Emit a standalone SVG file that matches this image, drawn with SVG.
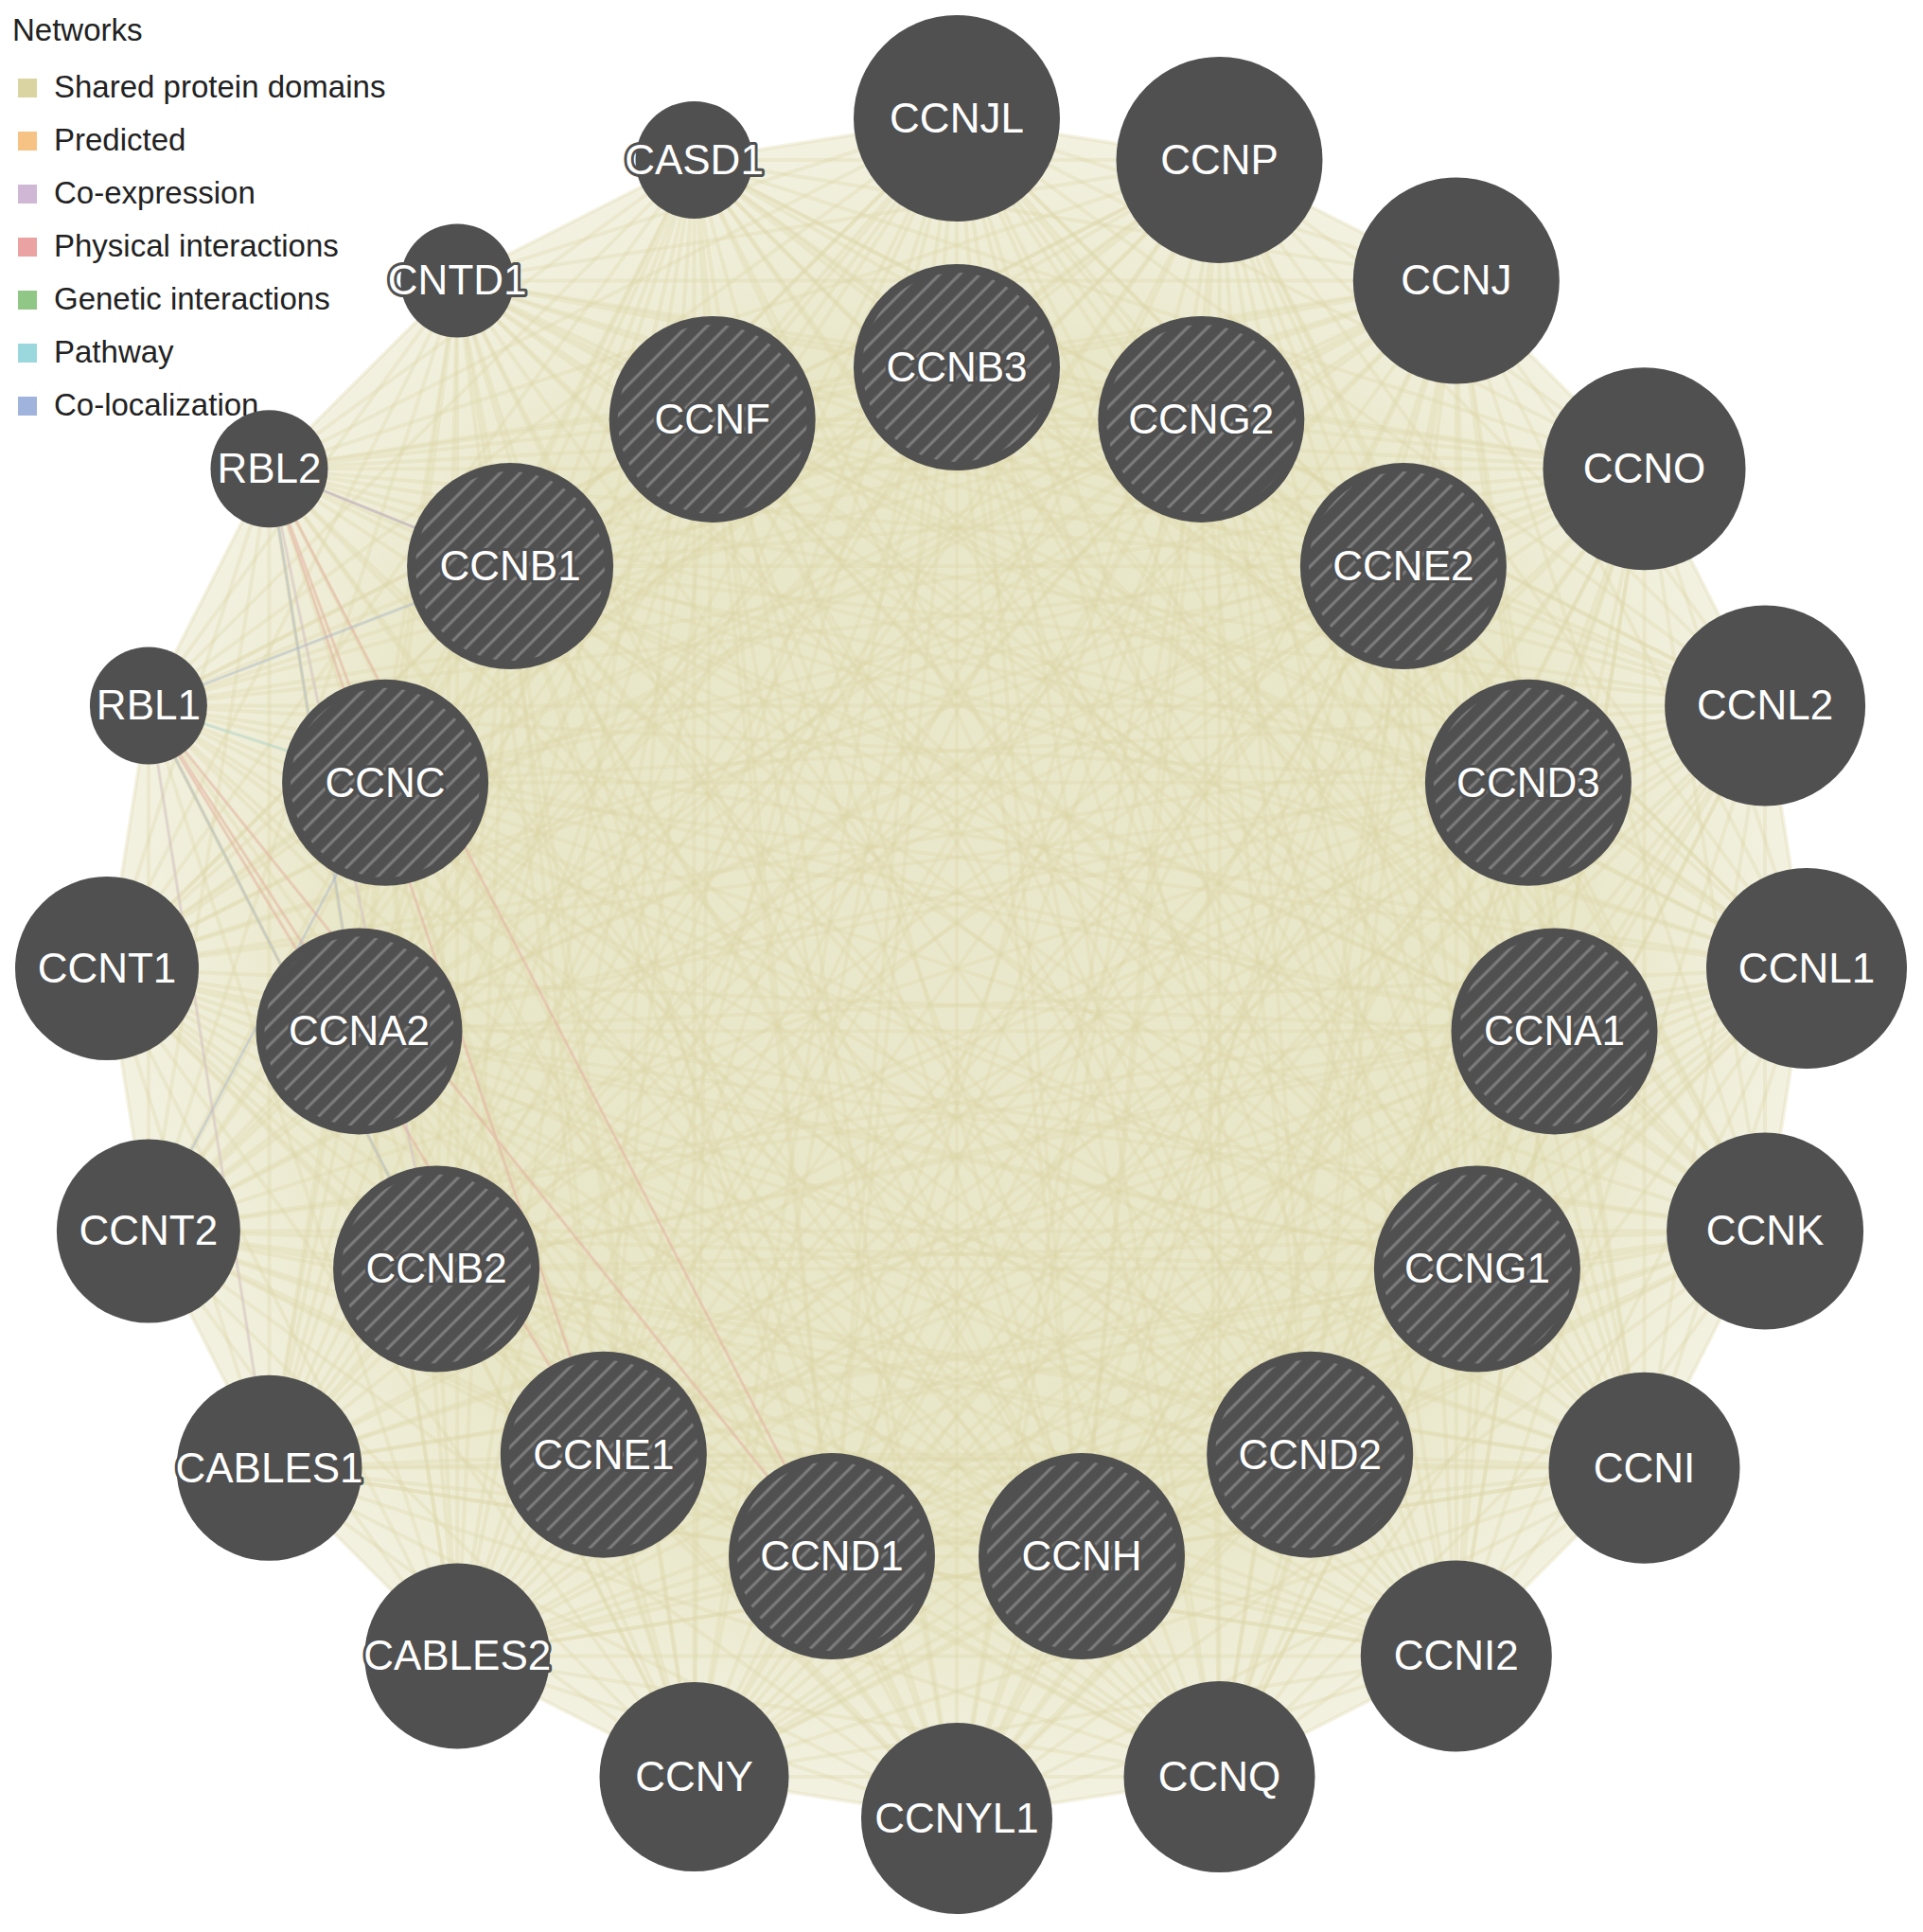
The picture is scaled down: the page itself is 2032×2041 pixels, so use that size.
<svg xmlns="http://www.w3.org/2000/svg" xmlns:xlink="http://www.w3.org/1999/xlink" width="2032" height="2041" viewBox="0 0 2032 2041">
<style>
.e{fill:none;stroke:#dcd8a8;stroke-opacity:0.32;stroke-width:4;stroke-linecap:round}
.n{fill:#505050}
.h{fill:url(#hatch)}
.t{font-family:"Liberation Sans",Arial,sans-serif;font-size:44px;fill:#ffffff;text-anchor:middle;stroke:#505050;stroke-width:6;paint-order:stroke;stroke-linejoin:round}
.lg{font-family:"Liberation Sans",Arial,sans-serif;font-size:33px;fill:#222222}
.ce{fill:none;stroke-width:2.5;stroke-opacity:0.4}
</style>
<defs>
<pattern id="hatch" patternUnits="userSpaceOnUse" width="15" height="15" patternTransform="rotate(45)">
<line x1="7" y1="0" x2="7" y2="15" stroke="#7e7e7e" stroke-width="3"/>
</pattern>
<radialGradient id="bg" cx="1011" cy="1023" r="898" gradientUnits="userSpaceOnUse">
<stop offset="0" stop-color="#eae8cc"/>
<stop offset="0.72" stop-color="#e9e7c9"/>
<stop offset="1" stop-color="#f3f2e2"/>
</radialGradient>
<path id="oo" class="e" d="M1011 125L1288.5 168.9M1011 125L1538.8 296.5M1011 125L1737.5 495.2M1011 125L1865.1 745.5M1011 125L1909 1023M1011 125L1865.1 1300.5M1011 125L1737.5 1550.8M1011 125L1538.8 1749.5M1011 125L1288.5 1877.1"/>
<path id="ii" class="e" d="M1011 388L1269.3 442.9M1011 388L1482.9 598.1M1011 388L1614.9 826.8M1011 388L1642.5 1089.4M1011 388L1560.9 1340.5M1011 388L1384.2 1536.7M1011 388L1143 1644.1"/>
<g id="oi">
<path class="e" d="M1011 125L1011 388M1011 125L1269.3 442.9M1011 125L1482.9 598.1M1011 125L1614.9 826.8M1011 125L1642.5 1089.4M1011 125L1560.9 1340.5M1011 125L1384.2 1536.7M1011 125L1143 1644.1M1011 125L879 1644.1M1011 125L637.8 1536.7M1011 125L461.1 1340.5M1011 125L379.5 1089.4M1011 125L407.1 826.8M1011 125L539.1 598.1M1011 125L752.7 442.9"/>
<path class="e" d="M1288.5 168.9L1011 388M1288.5 168.9L1269.3 442.9M1288.5 168.9L1482.9 598.1M1288.5 168.9L1614.9 826.8M1288.5 168.9L1642.5 1089.4M1288.5 168.9L1560.9 1340.5M1288.5 168.9L1384.2 1536.7M1288.5 168.9L1143 1644.1M1288.5 168.9L879 1644.1M1288.5 168.9L637.8 1536.7M1288.5 168.9L461.1 1340.5M1288.5 168.9L379.5 1089.4M1288.5 168.9L407.1 826.8M1288.5 168.9L539.1 598.1M1288.5 168.9L752.7 442.9"/>
<path class="e" d="M1538.8 296.5L1011 388M1538.8 296.5L1269.3 442.9M1538.8 296.5L1482.9 598.1M1538.8 296.5L1614.9 826.8M1538.8 296.5L1642.5 1089.4M1538.8 296.5L1560.9 1340.5M1538.8 296.5L1384.2 1536.7M1538.8 296.5L1143 1644.1M1538.8 296.5L879 1644.1M1538.8 296.5L637.8 1536.7M1538.8 296.5L461.1 1340.5M1538.8 296.5L379.5 1089.4M1538.8 296.5L407.1 826.8M1538.8 296.5L539.1 598.1M1538.8 296.5L752.7 442.9"/>
<path class="e" d="M1737.5 495.2L1011 388M1737.5 495.2L1269.3 442.9M1737.5 495.2L1482.9 598.1M1737.5 495.2L1614.9 826.8M1737.5 495.2L1642.5 1089.4M1737.5 495.2L1560.9 1340.5M1737.5 495.2L1384.2 1536.7M1737.5 495.2L1143 1644.1M1737.5 495.2L879 1644.1M1737.5 495.2L637.8 1536.7M1737.5 495.2L461.1 1340.5M1737.5 495.2L379.5 1089.4M1737.5 495.2L407.1 826.8M1737.5 495.2L539.1 598.1M1737.5 495.2L752.7 442.9"/>
</g>
</defs>
<rect width="2032" height="2041" fill="#ffffff"/>

<g id="connectors">
<polygon fill="url(#bg)" points="1011,125 1288.5,168.9 1538.8,296.5 1737.5,495.2 1865.1,745.5 1909,1023 1865.1,1300.5 1737.5,1550.8 1538.8,1749.5 1288.5,1877.1 1011,1921 733.5,1877.1 483.2,1749.5 284.5,1550.8 156.9,1300.5 113,1023 156.9,745.5 284.5,495.2 483.2,296.5 733.5,168.9"/>
<use xlink:href="#oo"/>
<use xlink:href="#oo" transform="rotate(18 1011 1023)"/>
<use xlink:href="#oo" transform="rotate(36 1011 1023)"/>
<use xlink:href="#oo" transform="rotate(54 1011 1023)"/>
<use xlink:href="#oo" transform="rotate(72 1011 1023)"/>
<use xlink:href="#oo" transform="rotate(90 1011 1023)"/>
<use xlink:href="#oo" transform="rotate(108 1011 1023)"/>
<use xlink:href="#oo" transform="rotate(126 1011 1023)"/>
<use xlink:href="#oo" transform="rotate(144 1011 1023)"/>
<use xlink:href="#oo" transform="rotate(162 1011 1023)"/>
<use xlink:href="#oo" transform="rotate(180 1011 1023)"/>
<use xlink:href="#oo" transform="rotate(198 1011 1023)"/>
<use xlink:href="#oo" transform="rotate(216 1011 1023)"/>
<use xlink:href="#oo" transform="rotate(234 1011 1023)"/>
<use xlink:href="#oo" transform="rotate(252 1011 1023)"/>
<use xlink:href="#oo" transform="rotate(270 1011 1023)"/>
<use xlink:href="#oo" transform="rotate(288 1011 1023)"/>
<use xlink:href="#oo" transform="rotate(306 1011 1023)"/>
<use xlink:href="#oo" transform="rotate(324 1011 1023)"/>
<use xlink:href="#oo" transform="rotate(342 1011 1023)"/>
<use xlink:href="#ii"/>
<use xlink:href="#ii" transform="rotate(24 1011 1023)"/>
<use xlink:href="#ii" transform="rotate(48 1011 1023)"/>
<use xlink:href="#ii" transform="rotate(72 1011 1023)"/>
<use xlink:href="#ii" transform="rotate(96 1011 1023)"/>
<use xlink:href="#ii" transform="rotate(120 1011 1023)"/>
<use xlink:href="#ii" transform="rotate(144 1011 1023)"/>
<use xlink:href="#ii" transform="rotate(168 1011 1023)"/>
<use xlink:href="#ii" transform="rotate(192 1011 1023)"/>
<use xlink:href="#ii" transform="rotate(216 1011 1023)"/>
<use xlink:href="#ii" transform="rotate(240 1011 1023)"/>
<use xlink:href="#ii" transform="rotate(264 1011 1023)"/>
<use xlink:href="#ii" transform="rotate(288 1011 1023)"/>
<use xlink:href="#ii" transform="rotate(312 1011 1023)"/>
<use xlink:href="#ii" transform="rotate(336 1011 1023)"/>
<use xlink:href="#oi"/>
<use xlink:href="#oi" transform="rotate(72 1011 1023)"/>
<use xlink:href="#oi" transform="rotate(144 1011 1023)"/>
<use xlink:href="#oi" transform="rotate(216 1011 1023)"/>
<use xlink:href="#oi" transform="rotate(288 1011 1023)"/>
<path class="ce" stroke="#eaa2a2" d="M284.5 495.2L539.1 598.1M284.5 495.2L407.1 826.8M284.5 495.2L379.5 1089.4M284.5 495.2L637.8 1536.7M284.5 495.2L879 1644.1M156.9 745.5L379.5 1089.4M156.9 745.5L637.8 1536.7M156.9 745.5L461.1 1340.5M156.9 745.5L879 1644.1"/>
<path class="ce" stroke="#9bd8de" d="M156.9 745.5L407.1 826.8M156.9 745.5L461.1 1340.5M284.5 495.2L379.5 1089.4"/>
<path class="ce" stroke="#a0b3dc" d="M284.5 495.2L539.1 598.1M156.9 745.5L539.1 598.1M407.1 826.8L156.9 1300.5"/>
<path class="ce" stroke="#d0b7d5" d="M156.9 745.5L284.5 1550.8M284.5 495.2L461.1 1340.5"/>
</g>

<g id="legend">
<text class="lg" x="13" y="43">Networks</text>
<rect x="19" y="83" width="20" height="20" fill="#dad4a2"/><text class="lg" x="57" y="103">Shared protein domains</text>
<rect x="19" y="139" width="20" height="20" fill="#f6c384"/><text class="lg" x="57" y="159">Predicted</text>
<rect x="19" y="195" width="20" height="20" fill="#d0b7d5"/><text class="lg" x="57" y="215">Co-expression</text>
<rect x="19" y="251" width="20" height="20" fill="#eaa2a2"/><text class="lg" x="57" y="271">Physical interactions</text>
<rect x="19" y="307" width="20" height="20" fill="#90c786"/><text class="lg" x="57" y="327">Genetic interactions</text>
<rect x="19" y="363" width="20" height="20" fill="#9bd8de"/><text class="lg" x="57" y="383">Pathway</text>
<rect x="19" y="419" width="20" height="20" fill="#a0b3dc"/><text class="lg" x="57" y="439">Co-localization</text>
</g>

<g id="CCNJL"><circle class="n" cx="1011" cy="125" r="109"/><text class="t" x="1011" y="140">CCNJL</text></g>
<g id="CCNP"><circle class="n" cx="1288.5" cy="168.9" r="109"/><text class="t" x="1288.5" y="184">CCNP</text></g>
<g id="CCNJ"><circle class="n" cx="1538.8" cy="296.5" r="109"/><text class="t" x="1538.8" y="311">CCNJ</text></g>
<g id="CCNO"><circle class="n" cx="1737.5" cy="495.2" r="107"/><text class="t" x="1737.5" y="510">CCNO</text></g>
<g id="CCNL2"><circle class="n" cx="1865.1" cy="745.5" r="106"/><text class="t" x="1865.1" y="760">CCNL2</text></g>
<g id="CCNL1"><circle class="n" cx="1909" cy="1023" r="106"/><text class="t" x="1909" y="1038">CCNL1</text></g>
<g id="CCNK"><circle class="n" cx="1865.1" cy="1300.5" r="104"/><text class="t" x="1865.1" y="1315">CCNK</text></g>
<g id="CCNI"><circle class="n" cx="1737.5" cy="1550.8" r="101"/><text class="t" x="1737.5" y="1566">CCNI</text></g>
<g id="CCNI2"><circle class="n" cx="1538.8" cy="1749.5" r="101"/><text class="t" x="1538.8" y="1764">CCNI2</text></g>
<g id="CCNQ"><circle class="n" cx="1288.5" cy="1877.1" r="101"/><text class="t" x="1288.5" y="1892">CCNQ</text></g>
<g id="CCNYL1"><circle class="n" cx="1011" cy="1921" r="101"/><text class="t" x="1011" y="1936">CCNYL1</text></g>
<g id="CCNY"><circle class="n" cx="733.5" cy="1877.1" r="100"/><text class="t" x="733.5" y="1892">CCNY</text></g>
<g id="CABLES2"><circle class="n" cx="483.2" cy="1749.5" r="98"/><text class="t" x="483.2" y="1764">CABLES2</text></g>
<g id="CABLES1"><circle class="n" cx="284.5" cy="1550.8" r="98"/><text class="t" x="284.5" y="1566">CABLES1</text></g>
<g id="CCNT2"><circle class="n" cx="156.9" cy="1300.5" r="97"/><text class="t" x="156.9" y="1315">CCNT2</text></g>
<g id="CCNT1"><circle class="n" cx="113" cy="1023" r="97"/><text class="t" x="113" y="1038">CCNT1</text></g>
<g id="RBL1"><circle class="n" cx="156.9" cy="745.5" r="62"/><text class="t" x="156.9" y="760">RBL1</text></g>
<g id="RBL2"><circle class="n" cx="284.5" cy="495.2" r="62"/><text class="t" x="284.5" y="510">RBL2</text></g>
<g id="CNTD1"><circle class="n" cx="483.2" cy="296.5" r="60"/><text class="t" x="483.2" y="311">CNTD1</text></g>
<g id="CASD1"><circle class="n" cx="733.5" cy="168.9" r="62"/><text class="t" x="733.5" y="184">CASD1</text></g>

<g id="CCNB3"><circle class="n" cx="1011" cy="388" r="109"/><circle class="h" cx="1011" cy="388" r="100"/><text class="t" x="1011" y="403">CCNB3</text></g>
<g id="CCNG2"><circle class="n" cx="1269.3" cy="442.9" r="109"/><circle class="h" cx="1269.3" cy="442.9" r="100"/><text class="t" x="1269.3" y="458">CCNG2</text></g>
<g id="CCNE2"><circle class="n" cx="1482.9" cy="598.1" r="109"/><circle class="h" cx="1482.9" cy="598.1" r="100"/><text class="t" x="1482.9" y="613">CCNE2</text></g>
<g id="CCND3"><circle class="n" cx="1614.9" cy="826.8" r="109"/><circle class="h" cx="1614.9" cy="826.8" r="100"/><text class="t" x="1614.9" y="842">CCND3</text></g>
<g id="CCNA1"><circle class="n" cx="1642.5" cy="1089.4" r="109"/><circle class="h" cx="1642.5" cy="1089.4" r="100"/><text class="t" x="1642.5" y="1104">CCNA1</text></g>
<g id="CCNG1"><circle class="n" cx="1560.9" cy="1340.5" r="109"/><circle class="h" cx="1560.9" cy="1340.5" r="100"/><text class="t" x="1560.9" y="1355">CCNG1</text></g>
<g id="CCND2"><circle class="n" cx="1384.2" cy="1536.7" r="109"/><circle class="h" cx="1384.2" cy="1536.7" r="100"/><text class="t" x="1384.2" y="1552">CCND2</text></g>
<g id="CCNH"><circle class="n" cx="1143" cy="1644.1" r="109"/><circle class="h" cx="1143" cy="1644.1" r="100"/><text class="t" x="1143" y="1659">CCNH</text></g>
<g id="CCND1"><circle class="n" cx="879" cy="1644.1" r="109"/><circle class="h" cx="879" cy="1644.1" r="100"/><text class="t" x="879" y="1659">CCND1</text></g>
<g id="CCNE1"><circle class="n" cx="637.8" cy="1536.7" r="109"/><circle class="h" cx="637.8" cy="1536.7" r="100"/><text class="t" x="637.8" y="1552">CCNE1</text></g>
<g id="CCNB2"><circle class="n" cx="461.1" cy="1340.5" r="109"/><circle class="h" cx="461.1" cy="1340.5" r="100"/><text class="t" x="461.1" y="1355">CCNB2</text></g>
<g id="CCNA2"><circle class="n" cx="379.5" cy="1089.4" r="109"/><circle class="h" cx="379.5" cy="1089.4" r="100"/><text class="t" x="379.5" y="1104">CCNA2</text></g>
<g id="CCNC"><circle class="n" cx="407.1" cy="826.8" r="109"/><circle class="h" cx="407.1" cy="826.8" r="100"/><text class="t" x="407.1" y="842">CCNC</text></g>
<g id="CCNB1"><circle class="n" cx="539.1" cy="598.1" r="109"/><circle class="h" cx="539.1" cy="598.1" r="100"/><text class="t" x="539.1" y="613">CCNB1</text></g>
<g id="CCNF"><circle class="n" cx="752.7" cy="442.9" r="109"/><circle class="h" cx="752.7" cy="442.9" r="100"/><text class="t" x="752.7" y="458">CCNF</text></g>
</svg>
